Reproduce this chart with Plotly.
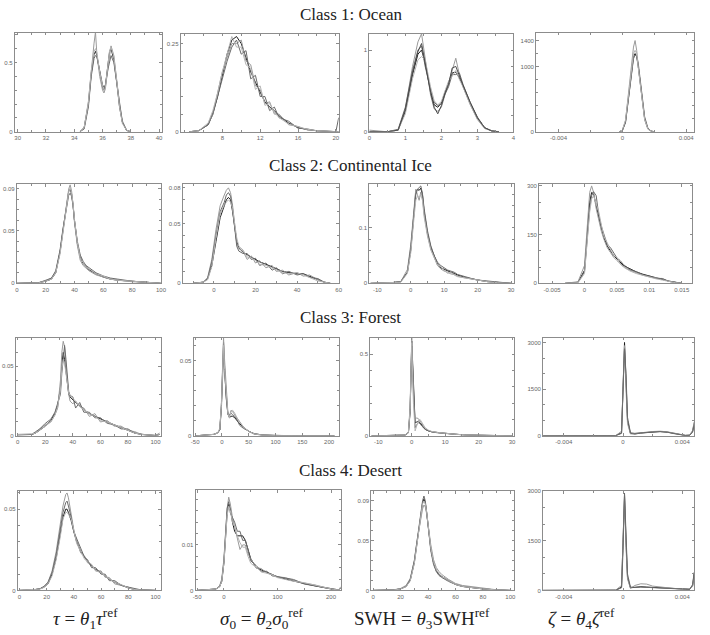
import plotly.graph_objects as go

W, H = 710, 635

# ---------------- data ----------------
# Class 1: Ocean
OCEAN_TAU_X = [34.4, 34.7, 35.0, 35.2, 35.4, 35.5, 35.6, 35.8, 36.0, 36.1, 36.2, 36.4, 36.5, 36.6, 36.8, 37.0, 37.2, 37.4, 37.7, 38.0]
OCEAN_TAU_Y = [
    [0, 0.03, 0.2, 0.42, 0.56, 0.58, 0.55, 0.42, 0.32, 0.30, 0.33, 0.5, 0.58, 0.6, 0.52, 0.36, 0.18, 0.07, 0.01, 0],
    [0, 0.03, 0.22, 0.46, 0.64, 0.72, 0.56, 0.4, 0.3, 0.28, 0.31, 0.48, 0.57, 0.62, 0.55, 0.38, 0.2, 0.08, 0.01, 0],
    [0, 0.02, 0.18, 0.4, 0.53, 0.55, 0.54, 0.44, 0.34, 0.32, 0.34, 0.46, 0.52, 0.55, 0.5, 0.36, 0.19, 0.07, 0.01, 0],
    [0, 0.03, 0.21, 0.44, 0.58, 0.6, 0.57, 0.43, 0.33, 0.3, 0.32, 0.49, 0.59, 0.61, 0.54, 0.37, 0.18, 0.06, 0.01, 0],
]
OCEAN_SIG_X = [4.5, 5.5, 6.5, 7, 7.5, 8, 8.5, 9, 9.5, 10, 10.5, 11, 11.5, 12, 12.5, 13, 13.5, 14, 15, 16, 17, 18, 20.0, 20.3]
OCEAN_SIG_Y = [
    [0, 0.003, 0.02, 0.05, 0.1, 0.16, 0.22, 0.26, 0.27, 0.25, 0.21, 0.17, 0.14, 0.11, 0.085, 0.07, 0.06, 0.045, 0.025, 0.012, 0.006, 0.003, 0, 0],
    [0, 0.003, 0.02, 0.05, 0.11, 0.17, 0.21, 0.25, 0.25, 0.26, 0.2, 0.19, 0.13, 0.12, 0.08, 0.085, 0.05, 0.05, 0.02, 0.015, 0.005, 0.004, 0, 0],
    [0, 0.003, 0.02, 0.055, 0.1, 0.15, 0.2, 0.24, 0.26, 0.22, 0.23, 0.15, 0.16, 0.1, 0.1, 0.06, 0.07, 0.04, 0.03, 0.01, 0.008, 0.002, 0.0, 0.04],
    [0, 0.003, 0.025, 0.06, 0.11, 0.17, 0.22, 0.27, 0.24, 0.24, 0.19, 0.18, 0.12, 0.13, 0.075, 0.08, 0.055, 0.04, 0.022, 0.014, 0.007, 0.003, 0, 0],
]
OCEAN_SWH_X = [0, 0.5, 0.8, 1.0, 1.2, 1.35, 1.45, 1.55, 1.7, 1.8, 1.9, 2.0, 2.1, 2.2, 2.3, 2.4, 2.5, 2.6, 2.8, 3.0, 3.2, 3.4, 3.6]
OCEAN_SWH_Y = [
    [0, 0, 0.02, 0.25, 0.7, 0.95, 1.0, 0.85, 0.5, 0.33, 0.3, 0.35, 0.48, 0.6, 0.72, 0.73, 0.66, 0.56, 0.35, 0.17, 0.05, 0.01, 0],
    [0.02, 0, 0.02, 0.28, 0.8, 1.1, 1.2, 0.9, 0.45, 0.28, 0.25, 0.3, 0.45, 0.6, 0.75, 0.9, 0.7, 0.55, 0.33, 0.15, 0.04, 0.01, 0],
    [0, 0, 0.03, 0.3, 0.75, 1.0, 1.05, 0.8, 0.52, 0.36, 0.32, 0.34, 0.46, 0.55, 0.7, 0.7, 0.72, 0.58, 0.36, 0.18, 0.05, 0.01, 0],
    [0, 0, 0.02, 0.22, 0.65, 0.88, 0.92, 0.88, 0.55, 0.38, 0.33, 0.37, 0.5, 0.62, 0.68, 0.75, 0.64, 0.55, 0.34, 0.16, 0.05, 0.01, 0],
    [0, 0, 0.02, 0.27, 0.72, 0.98, 1.08, 0.82, 0.48, 0.3, 0.22, 0.32, 0.47, 0.58, 0.78, 0.8, 0.68, 0.57, 0.36, 0.17, 0.05, 0.01, 0],
]
OCEAN_ZETA_X = [-0.0002, 0.0, 0.0002, 0.0004, 0.0006, 0.0007, 0.0008, 0.0009, 0.001, 0.0012, 0.0014, 0.0016, 0.0018, 0.002]
OCEAN_ZETA_Y = [
    [0, 20, 150, 550, 1000, 1150, 1200, 1150, 1000, 600, 200, 50, 10, 0],
    [0, 20, 170, 600, 1100, 1300, 1400, 1250, 1000, 550, 180, 40, 8, 0],
    [0, 15, 140, 520, 950, 1120, 1180, 1160, 1050, 650, 230, 60, 12, 0],
    [0, 25, 180, 620, 1050, 1200, 1250, 1200, 980, 560, 190, 45, 10, 0],
]

# Class 2: Continental Ice
ICE_TAU_X = [0, 10, 15, 20, 24, 27, 30, 32, 34, 35, 36, 37, 38, 39, 40, 42, 44, 46, 48, 50, 55, 60, 65, 70, 80, 90, 100]
ICE_TAU_Y = [
    [0, 0, 0.0005, 0.002, 0.004, 0.01, 0.03, 0.05, 0.07, 0.08, 0.088, 0.09, 0.085, 0.075, 0.06, 0.038, 0.025, 0.019, 0.016, 0.013, 0.009, 0.006, 0.004, 0.003, 0.002, 0.001, 0],
    [0, 0, 0.0005, 0.003, 0.005, 0.011, 0.03, 0.05, 0.072, 0.082, 0.09, 0.094, 0.088, 0.075, 0.058, 0.036, 0.022, 0.017, 0.014, 0.012, 0.008, 0.006, 0.004, 0.003, 0.0015, 0.001, 0],
    [0, 0, 0.0006, 0.0025, 0.005, 0.012, 0.032, 0.052, 0.07, 0.078, 0.084, 0.086, 0.083, 0.074, 0.06, 0.04, 0.027, 0.021, 0.017, 0.015, 0.01, 0.007, 0.005, 0.004, 0.002, 0.001, 0],
    [0, 0, 0.0004, 0.002, 0.004, 0.01, 0.028, 0.048, 0.068, 0.079, 0.087, 0.091, 0.086, 0.076, 0.061, 0.039, 0.024, 0.02, 0.015, 0.014, 0.009, 0.007, 0.004, 0.003, 0.002, 0.001, 0],
]
ICE_SIG_X = [-10, -5, -3, -1, 1, 3, 5, 6, 7, 8, 9, 10, 11, 12, 14, 16, 18, 20, 22, 25, 28, 30, 33, 36, 40, 43, 46, 50, 53, 56]
ICE_SIG_Y = [
    [0, 0.001, 0.004, 0.015, 0.035, 0.055, 0.065, 0.07, 0.072, 0.07, 0.06, 0.045, 0.035, 0.03, 0.026, 0.024, 0.022, 0.02, 0.018, 0.016, 0.014, 0.012, 0.01, 0.009, 0.008, 0.008, 0.006, 0.003, 0.001, 0],
    [0, 0.001, 0.005, 0.02, 0.045, 0.065, 0.074, 0.078, 0.08, 0.076, 0.065, 0.048, 0.033, 0.029, 0.027, 0.02, 0.023, 0.017, 0.019, 0.013, 0.015, 0.01, 0.011, 0.007, 0.009, 0.006, 0.007, 0.003, 0.001, 0],
    [0, 0.001, 0.004, 0.018, 0.04, 0.06, 0.068, 0.074, 0.076, 0.073, 0.062, 0.046, 0.031, 0.027, 0.025, 0.025, 0.02, 0.021, 0.015, 0.017, 0.011, 0.013, 0.008, 0.01, 0.007, 0.008, 0.005, 0.004, 0.001, 0],
    [0, 0.001, 0.003, 0.014, 0.038, 0.058, 0.066, 0.068, 0.07, 0.068, 0.063, 0.05, 0.038, 0.031, 0.028, 0.022, 0.021, 0.019, 0.016, 0.015, 0.013, 0.011, 0.009, 0.008, 0.009, 0.007, 0.005, 0.002, 0.001, 0],
]
ICE_SWH_X = [-12, -6, -3, -1, 0, 1, 1.5, 2, 2.5, 3, 3.5, 4, 5, 6, 7, 8, 9, 10, 11, 12, 13, 14, 16, 18, 20, 23, 26, 30]
ICE_SWH_Y = [
    [0, 0.001, 0.003, 0.02, 0.06, 0.13, 0.165, 0.17, 0.168, 0.172, 0.16, 0.13, 0.09, 0.065, 0.048, 0.035, 0.028, 0.025, 0.022, 0.02, 0.018, 0.015, 0.011, 0.008, 0.006, 0.003, 0.002, 0],
    [0, 0.001, 0.003, 0.025, 0.07, 0.14, 0.17, 0.16, 0.15, 0.165, 0.155, 0.125, 0.088, 0.062, 0.045, 0.032, 0.026, 0.022, 0.02, 0.017, 0.016, 0.013, 0.01, 0.008, 0.005, 0.003, 0.001, 0],
    [0, 0.001, 0.003, 0.02, 0.065, 0.13, 0.16, 0.17, 0.174, 0.176, 0.162, 0.135, 0.095, 0.068, 0.05, 0.038, 0.032, 0.028, 0.024, 0.022, 0.02, 0.016, 0.012, 0.009, 0.006, 0.004, 0.002, 0],
    [0, 0.001, 0.002, 0.018, 0.055, 0.12, 0.15, 0.158, 0.155, 0.16, 0.15, 0.12, 0.085, 0.06, 0.045, 0.033, 0.03, 0.023, 0.018, 0.02, 0.015, 0.012, 0.01, 0.007, 0.005, 0.003, 0.001, 0],
]
ICE_ZETA_X = [-0.003, -0.001, 0, 0.0004, 0.0008, 0.0011, 0.0014, 0.0018, 0.0022, 0.0026, 0.003, 0.0035, 0.004, 0.0045, 0.005, 0.0055, 0.006, 0.007, 0.008, 0.009, 0.01, 0.011, 0.012, 0.013, 0.014, 0.015]
ICE_ZETA_Y = [
    [0, 3, 40, 150, 250, 280, 275, 240, 200, 170, 140, 115, 100, 85, 75, 65, 55, 45, 35, 28, 22, 17, 12, 7, 3, 0],
    [0, 5, 55, 180, 280, 300, 280, 230, 190, 160, 135, 110, 95, 80, 70, 60, 52, 40, 32, 25, 20, 16, 14, 6, 2, 0],
    [0, 3, 35, 130, 230, 270, 282, 270, 210, 175, 150, 120, 110, 95, 78, 70, 58, 42, 36, 26, 22, 15, 15, 6, 2, 0],
    [0, 2, 30, 120, 220, 260, 270, 245, 220, 180, 145, 125, 105, 85, 80, 60, 50, 38, 30, 24, 18, 14, 10, 5, 2, 0],
]

# Class 3: Forest
FOREST_TAU_X = [0, 5, 10, 13, 16, 20, 24, 27, 29, 31, 32, 33, 34, 35, 36, 37, 38, 40, 42, 45, 48, 52, 56, 60, 65, 70, 75, 80, 85, 90, 95, 100, 103]
FOREST_TAU_Y = [
    [0.001, 0.001, 0.001, 0.002, 0.004, 0.007, 0.011, 0.016, 0.022, 0.035, 0.05, 0.06, 0.055, 0.045, 0.035, 0.03, 0.028, 0.026, 0.024, 0.022, 0.019, 0.016, 0.014, 0.012, 0.01, 0.008, 0.006, 0.004, 0.002, 0.001, 0.0005, 0.0003, 0.001],
    [0.001, 0.001, 0.001, 0.002, 0.005, 0.008, 0.01, 0.015, 0.02, 0.04, 0.06, 0.068, 0.064, 0.05, 0.038, 0.03, 0.025, 0.023, 0.025, 0.021, 0.02, 0.014, 0.016, 0.01, 0.011, 0.007, 0.007, 0.004, 0.003, 0.001, 0.0005, 0.0003, 0.002],
    [0.0005, 0.001, 0.001, 0.003, 0.005, 0.009, 0.012, 0.017, 0.023, 0.03, 0.045, 0.058, 0.065, 0.055, 0.04, 0.032, 0.029, 0.028, 0.02, 0.024, 0.017, 0.017, 0.013, 0.013, 0.009, 0.008, 0.005, 0.005, 0.002, 0.001, 0.0005, 0.0003, 0.001],
    [0.001, 0.001, 0.0015, 0.002, 0.004, 0.007, 0.01, 0.015, 0.021, 0.033, 0.048, 0.055, 0.052, 0.046, 0.037, 0.031, 0.029, 0.027, 0.025, 0.021, 0.019, 0.016, 0.014, 0.011, 0.01, 0.008, 0.006, 0.004, 0.002, 0.001, 0.0005, 0.0003, 0.001],
]
FOREST_SIG_X = [-50, -30, -15, -8, -4, -1, 1, 3, 5, 8, 11, 14, 17, 20, 24, 28, 33, 40, 50, 60, 75, 100, 130, 170, 210]
FOREST_SIG_Y = [
    [0, 0.0005, 0.001, 0.002, 0.004, 0.02, 0.045, 0.062, 0.045, 0.025, 0.015, 0.012, 0.013, 0.013, 0.012, 0.01, 0.008, 0.006, 0.003, 0.0015, 0.0006, 0.0002, 0.0001, 0, 0],
    [0, 0.0005, 0.001, 0.002, 0.004, 0.022, 0.05, 0.065, 0.05, 0.028, 0.016, 0.013, 0.017, 0.016, 0.014, 0.012, 0.009, 0.006, 0.003, 0.0015, 0.0006, 0.0002, 0.0001, 0, 0],
    [0, 0.0005, 0.001, 0.002, 0.004, 0.018, 0.04, 0.055, 0.042, 0.024, 0.014, 0.014, 0.015, 0.014, 0.013, 0.011, 0.007, 0.005, 0.003, 0.0012, 0.0005, 0.0002, 0.0001, 0, 0],
    [0, 0.0005, 0.001, 0.002, 0.005, 0.02, 0.046, 0.06, 0.044, 0.026, 0.015, 0.012, 0.016, 0.017, 0.015, 0.012, 0.009, 0.006, 0.003, 0.0013, 0.0005, 0.0002, 0.0001, 0, 0],
]
FOREST_SWH_X = [-12, -5, -2, -1, -0.5, 0, 0.5, 1, 1.5, 2, 2.5, 3, 4, 5, 6, 8, 10, 13, 16, 20, 25, 30]
FOREST_SWH_Y = [
    [0, 0.001, 0.005, 0.02, 0.15, 0.58, 0.3, 0.08, 0.085, 0.09, 0.08, 0.065, 0.04, 0.03, 0.025, 0.02, 0.015, 0.01, 0.006, 0.003, 0.001, 0],
    [0, 0.001, 0.005, 0.025, 0.18, 0.6, 0.25, 0.1, 0.11, 0.105, 0.09, 0.07, 0.045, 0.032, 0.026, 0.02, 0.015, 0.01, 0.006, 0.003, 0.001, 0],
    [0, 0.001, 0.004, 0.018, 0.14, 0.55, 0.28, 0.05, 0.07, 0.08, 0.075, 0.06, 0.04, 0.03, 0.024, 0.018, 0.014, 0.009, 0.005, 0.003, 0.001, 0],
    [0, 0.001, 0.005, 0.02, 0.16, 0.57, 0.2, 0.03, 0.06, 0.095, 0.1, 0.08, 0.05, 0.035, 0.027, 0.02, 0.015, 0.01, 0.006, 0.003, 0.001, 0],
]
FOREST_ZETA_X = [-0.0054, -0.002, -0.0005, -0.0001, 0.0, 0.0001, 0.0002, 0.0003, 0.0005, 0.0008, 0.0012, 0.0016, 0.002, 0.0025, 0.003, 0.0034, 0.0038, 0.0042, 0.0045, 0.0047, 0.0048]
FOREST_ZETA_Y = [
    [0, 0, 5, 100, 1500, 3000, 1800, 500, 80, 60, 90, 110, 130, 140, 120, 80, 40, 15, 20, 150, 400],
    [0, 0, 8, 150, 1800, 2900, 1500, 400, 60, 70, 100, 120, 140, 150, 130, 90, 45, 18, 25, 180, 450],
    [0, 0, 5, 80, 1200, 2800, 2000, 600, 100, 80, 95, 115, 125, 135, 115, 75, 38, 12, 18, 120, 350],
]

# Class 4: Desert
DESERT_TAU_X = [0, 10, 15, 18, 21, 24, 27, 30, 32, 34, 35, 36, 38, 40, 42, 45, 48, 50, 53, 56, 60, 63, 66, 70, 75, 80, 85, 90, 100]
DESERT_TAU_Y = [
    [0, 0.0003, 0.001, 0.002, 0.004, 0.01, 0.02, 0.035, 0.045, 0.05, 0.05, 0.048, 0.043, 0.036, 0.03, 0.024, 0.02, 0.018, 0.015, 0.013, 0.011, 0.009, 0.007, 0.005, 0.003, 0.0015, 0.0005, 0.0002, 0],
    [0, 0.0003, 0.001, 0.002, 0.005, 0.012, 0.024, 0.04, 0.052, 0.059, 0.06, 0.057, 0.048, 0.037, 0.031, 0.023, 0.021, 0.017, 0.016, 0.012, 0.012, 0.008, 0.008, 0.004, 0.003, 0.002, 0.0005, 0.0002, 0],
    [0, 0.0003, 0.001, 0.0025, 0.005, 0.011, 0.022, 0.038, 0.048, 0.054, 0.055, 0.052, 0.045, 0.036, 0.032, 0.025, 0.02, 0.019, 0.014, 0.014, 0.01, 0.01, 0.006, 0.006, 0.003, 0.002, 0.001, 0.0002, 0],
    [0, 0.0003, 0.0008, 0.0018, 0.004, 0.009, 0.019, 0.033, 0.044, 0.048, 0.048, 0.047, 0.044, 0.037, 0.029, 0.024, 0.019, 0.018, 0.016, 0.012, 0.011, 0.009, 0.007, 0.005, 0.0035, 0.0015, 0.0005, 0.0002, 0],
]
DESERT_SIG_X = [-50, -30, -15, -8, -4, 0, 3, 6, 9, 12, 16, 20, 25, 30, 35, 40, 45, 50, 55, 60, 70, 80, 90, 100, 115, 130, 150, 170, 190, 205, 215, 218]
DESERT_SIG_Y = [
    [0, 0.0001, 0.0003, 0.0008, 0.002, 0.006, 0.012, 0.017, 0.019, 0.018, 0.015, 0.013, 0.012, 0.012, 0.012, 0.011, 0.009, 0.007, 0.006, 0.005, 0.0045, 0.004, 0.0035, 0.003, 0.0025, 0.002, 0.0015, 0.001, 0.0005, 0.0002, 0.0001, 0.0005],
    [0, 0.0001, 0.0003, 0.001, 0.0025, 0.007, 0.013, 0.018, 0.0205, 0.019, 0.016, 0.014, 0.011, 0.009, 0.01, 0.01, 0.008, 0.007, 0.006, 0.005, 0.0048, 0.0038, 0.0035, 0.003, 0.0028, 0.0022, 0.0016, 0.0012, 0.0006, 0.0002, 0.0001, 0.0008],
    [0, 0.0001, 0.0003, 0.0009, 0.0022, 0.0065, 0.013, 0.018, 0.0195, 0.017, 0.016, 0.015, 0.013, 0.013, 0.011, 0.011, 0.009, 0.0065, 0.006, 0.0055, 0.0042, 0.0042, 0.0032, 0.003, 0.0026, 0.0024, 0.0014, 0.001, 0.0005, 0.0002, 0.0001, 0.0006],
    [0, 0.0001, 0.0003, 0.0008, 0.002, 0.006, 0.0115, 0.0165, 0.0185, 0.0175, 0.015, 0.014, 0.012, 0.0105, 0.0095, 0.0095, 0.0075, 0.006, 0.0055, 0.0052, 0.004, 0.0038, 0.0034, 0.0028, 0.0024, 0.002, 0.0017, 0.0011, 0.0006, 0.0002, 0.0001, 0.0007],
]
DESERT_SWH_X = [0, 10, 15, 20, 24, 27, 30, 32, 34, 35, 36, 37, 38, 39, 40, 42, 44, 46, 48, 50, 55, 60, 65, 70, 80, 90, 100]
DESERT_SWH_Y = [
    [0, 0, 0.0005, 0.0015, 0.004, 0.01, 0.028, 0.048, 0.07, 0.08, 0.088, 0.092, 0.088, 0.078, 0.065, 0.042, 0.028, 0.02, 0.016, 0.014, 0.01, 0.006, 0.004, 0.003, 0.0015, 0.0005, 0],
    [0, 0, 0.0006, 0.002, 0.005, 0.012, 0.03, 0.05, 0.068, 0.076, 0.082, 0.086, 0.084, 0.077, 0.066, 0.046, 0.031, 0.023, 0.019, 0.016, 0.011, 0.007, 0.005, 0.004, 0.002, 0.0006, 0],
    [0, 0, 0.0005, 0.0015, 0.004, 0.011, 0.03, 0.05, 0.072, 0.083, 0.09, 0.095, 0.09, 0.079, 0.064, 0.04, 0.026, 0.019, 0.015, 0.013, 0.009, 0.006, 0.004, 0.003, 0.0015, 0.0005, 0],
    [0, 0, 0.0004, 0.0014, 0.0038, 0.0095, 0.027, 0.047, 0.069, 0.079, 0.087, 0.09, 0.087, 0.079, 0.066, 0.043, 0.029, 0.021, 0.017, 0.014, 0.01, 0.006, 0.004, 0.003, 0.0015, 0.0005, 0],
]
DESERT_ZETA_X = [-0.0054, -0.002, -0.0005, -0.0001, 0.0, 0.0001, 0.0002, 0.0003, 0.0005, 0.0008, 0.0012, 0.0016, 0.002, 0.0025, 0.003, 0.0034, 0.0038, 0.0042, 0.0045, 0.0047, 0.0048]
DESERT_ZETA_Y = [
    [0, 0, 5, 100, 1500, 2900, 1500, 400, 80, 100, 110, 100, 90, 80, 70, 60, 50, 40, 35, 150, 500],
    [0, 0, 8, 150, 1800, 2800, 1300, 350, 60, 150, 200, 190, 130, 100, 80, 60, 50, 40, 35, 120, 450],
    [0, 0, 5, 80, 1200, 2950, 1700, 500, 100, 90, 100, 95, 85, 75, 65, 55, 45, 38, 30, 180, 550],
]

# Titles and axis labels
ROW_TITLES = ["Class 1: Ocean", "Class 2: Continental Ice", "Class 3: Forest", "Class 4: Desert"]
COL_LABELS = [
    "<i>τ</i> = <i>θ</i><sub>1</sub><i>τ</i><sup>ref</sup>",
    "<i>σ</i><sub>0</sub> = <i>θ</i><sub>2</sub><i>σ</i><sub>0</sub><sup>ref</sup>",
    "SWH = <i>θ</i><sub>3</sub>SWH<sup>ref</sup>",
    "<i>ζ</i> = <i>θ</i><sub>4</sub><i>ζ</i><sup>ref</sup>",
]

# Tick labels (labelled major ticks) and unlabelled minor tick positions per panel
TAU_OCEAN_XT = [30, 32, 34, 36, 38, 40]
TAU_OCEAN_YT, TAU_OCEAN_YM = [0, 0.5], [0.1, 0.2, 0.3, 0.4, 0.6, 0.7]
SIG_OCEAN_XT, SIG_OCEAN_XM = [8, 12, 16, 20], [4, 6, 10, 14, 18]
SIG_OCEAN_YT, SIG_OCEAN_YM = [0, 0.25], [0.05, 0.1, 0.15, 0.2]
SWH_OCEAN_XT, SWH_OCEAN_XM = [0, 1, 2, 3, 4], [0.5, 1.5, 2.5, 3.5]
SWH_OCEAN_YT, SWH_OCEAN_YM = [0, 1], [0.2, 0.4, 0.6, 0.8]
ZETA_OCEAN_XT, ZETA_OCEAN_XM = [-0.004, 0, 0.004], [-0.002, 0.002]
ZETA_OCEAN_YT, ZETA_OCEAN_YM = [0, 1000, 1400], [200, 400, 600, 800, 1200]

TAU_100_XT = [0, 20, 40, 60, 80, 100]
TAU_ICE_YT, TAU_ICE_YM = [0, 0.05, 0.09], [0.01, 0.02, 0.03, 0.04, 0.06, 0.07, 0.08]
SIG_ICE_XT, SIG_ICE_XM = [0, 20, 40, 60], [-10, 10, 30, 50]
SIG_ICE_YT, SIG_ICE_YM = [0, 0.05, 0.08], [0.01, 0.02, 0.03, 0.04, 0.06, 0.07]
SWH_ICE_XT, SWH_ICE_XM = [-10, 0, 10, 20, 30], [-5, 5, 15, 25]
SWH_ICE_YT, SWH_ICE_YM = [0, 0.1, 0.18], [0.02, 0.04, 0.06, 0.08, 0.12, 0.14, 0.16]
ZETA_ICE_XT = [-0.005, 0, 0.005, 0.01, 0.015]
ZETA_ICE_XL = ["-0.005", "0", "0.005", "0.01", "0.015"]
ZETA_ICE_YT, ZETA_ICE_YM = [0, 150, 300], [50, 100, 200, 250]

TAU_FOREST_YT, TAU_FOREST_YM = [0, 0.05], [0.01, 0.02, 0.03, 0.04, 0.06, 0.07]
SIG_WIDE_XT = [-50, 0, 50, 100, 150, 200]
SIG_FOREST_YT, SIG_FOREST_YM = [0, 0.05], [0.01, 0.02, 0.03, 0.04, 0.06]
SWH_FOREST_YT, SWH_FOREST_YM = [0, 0.5], [0.1, 0.2, 0.3, 0.4, 0.6]
ZETA_SYM_XT, ZETA_SYM_XM = [-0.004, 0, 0.004], [-0.002, 0.002]
ZETA_3K_YT, ZETA_3K_YM = [0, 1500, 3000], [500, 1000, 2000, 2500]

TAU_DESERT_YT, TAU_DESERT_YM = [0, 0.05], [0.01, 0.02, 0.03, 0.04, 0.06]
SIG_DESERT_XT, SIG_DESERT_XM = [-50, 0, 100, 200], [50, 150]
SIG_DESERT_YT, SIG_DESERT_YM = [0, 0.01], [0.0025, 0.005, 0.0075, 0.0125, 0.015, 0.0175, 0.02]
SWH_DESERT_YT, SWH_DESERT_YM = [0, 0.05, 0.09], [0.01, 0.02, 0.03, 0.04, 0.06, 0.07, 0.08]

# ---------------- layout (pixel boxes of each panel: left, right, top, bottom) ----------------
BOXES = [
    [(12, 161, 30, 130), (180, 340, 31, 130), (371, 517, 31, 130), (540, 700, 30, 130)],
    [(14, 160, 183, 283), (182, 340, 183, 283), (371, 518, 183, 283), (543, 698, 183, 283)],
    [(13, 160, 338, 437), (193, 340, 338, 437), (372, 518, 338, 437), (547, 700, 338, 437)],
    [(15, 160, 493, 593), (195, 342, 492, 593), (373, 518, 493, 593), (547, 700, 493, 593)],
]


def lab(v):
    return [("%g" % t) for t in v]


PANELS = [
    # row 0
    [(OCEAN_TAU_X, OCEAN_TAU_Y, [29.8, 40.2], [0, 0.715], TAU_OCEAN_XT, lab(TAU_OCEAN_XT), [31, 33, 35, 37, 39], TAU_OCEAN_YT, TAU_OCEAN_YM),
     (OCEAN_SIG_X, OCEAN_SIG_Y, [3.6, 20.3], [0, 0.278], SIG_OCEAN_XT, lab(SIG_OCEAN_XT), SIG_OCEAN_XM, SIG_OCEAN_YT, SIG_OCEAN_YM),
     (OCEAN_SWH_X, OCEAN_SWH_Y, [0, 4], [0, 1.2], SWH_OCEAN_XT, lab(SWH_OCEAN_XT), SWH_OCEAN_XM, SWH_OCEAN_YT, SWH_OCEAN_YM),
     (OCEAN_ZETA_X, OCEAN_ZETA_Y, [-0.0054, 0.0045], [0, 1520], ZETA_OCEAN_XT, ["-0.004", "0", "0.004"], ZETA_OCEAN_XM, ZETA_OCEAN_YT, ZETA_OCEAN_YM)],
    # row 1
    [(ICE_TAU_X, ICE_TAU_Y, [0, 100], [0, 0.0945], TAU_100_XT, lab(TAU_100_XT), [10, 30, 50, 70, 90], TAU_ICE_YT, TAU_ICE_YM),
     (ICE_SIG_X, ICE_SIG_Y, [-15, 60], [0, 0.083], SIG_ICE_XT, lab(SIG_ICE_XT), SIG_ICE_XM, SIG_ICE_YT, SIG_ICE_YM),
     (ICE_SWH_X, ICE_SWH_Y, [-12.4, 31], [0, 0.179], SWH_ICE_XT, lab(SWH_ICE_XT), SWH_ICE_XM, SWH_ICE_YT, SWH_ICE_YM),
     (ICE_ZETA_X, ICE_ZETA_Y, [-0.007, 0.0166], [0, 305], ZETA_ICE_XT, ZETA_ICE_XL, [], ZETA_ICE_YT, ZETA_ICE_YM)],
    # row 2
    [(FOREST_TAU_X, FOREST_TAU_Y, [-1.4, 104], [0, 0.0705], TAU_100_XT, lab(TAU_100_XT), [10, 30, 50, 70, 90], TAU_FOREST_YT, TAU_FOREST_YM),
     (FOREST_SIG_X, FOREST_SIG_Y, [-53, 218], [0, 0.065], SIG_WIDE_XT, lab(SIG_WIDE_XT), [], SIG_FOREST_YT, SIG_FOREST_YM),
     (FOREST_SWH_X, FOREST_SWH_Y, [-12.4, 30.7], [0, 0.6], SWH_ICE_XT, lab(SWH_ICE_XT), SWH_ICE_XM, SWH_FOREST_YT, SWH_FOREST_YM),
     (FOREST_ZETA_X, FOREST_ZETA_Y, [-0.0054, 0.0048], [0, 3150], ZETA_SYM_XT, ["-0.004", "0", "0.004"], ZETA_SYM_XM, ZETA_3K_YT, ZETA_3K_YM)],
    # row 3
    [(DESERT_TAU_X, DESERT_TAU_Y, [-1.2, 104], [0, 0.061], TAU_100_XT, lab(TAU_100_XT), [10, 30, 50, 70, 90], TAU_DESERT_YT, TAU_DESERT_YM),
     (DESERT_SIG_X, DESERT_SIG_Y, [-53, 218], [0, 0.022], SIG_DESERT_XT, lab(SIG_DESERT_XT), SIG_DESERT_XM, SIG_DESERT_YT, SIG_DESERT_YM),
     (DESERT_SWH_X, DESERT_SWH_Y, [-1.4, 103], [0, 0.0997], TAU_100_XT, lab(TAU_100_XT), [10, 30, 50, 70, 90], SWH_DESERT_YT, SWH_DESERT_YM),
     (DESERT_ZETA_X, DESERT_ZETA_Y, [-0.0054, 0.0048], [0, 3000], ZETA_SYM_XT, ["-0.004", "0", "0.004"], ZETA_SYM_XM, ZETA_3K_YT, ZETA_3K_YM)],
]

LINE_COLORS = ["#1c1c1c", "#9a9a9a", "#6a6a6a", "#b4b4b4", "#4a4a4a"]
AXIS_GRAY = "#8c8c8c"

fig = go.Figure()
layout = dict(
    width=W, height=H, margin=dict(l=0, r=0, t=0, b=0),
    paper_bgcolor="white", plot_bgcolor="white", showlegend=False,
)
axis_common = dict(
    showgrid=False, zeroline=False, showline=True, linecolor=AXIS_GRAY, linewidth=1,
    mirror="allticks", ticks="inside", ticklen=2.5, tickcolor=AXIS_GRAY, tickwidth=1,
    tickfont=dict(family="Liberation Sans, Arial, sans-serif", size=6, color="#666666"),
    fixedrange=True,
)

idx = 0
for r in range(4):
    for c in range(4):
        idx += 1
        X, YS, xr, yr, xt, xl, xm, yt, ym = PANELS[r][c]
        L, R, T, B = BOXES[r][c]
        xa = "xaxis" if idx == 1 else f"xaxis{idx}"
        ya = "yaxis" if idx == 1 else f"yaxis{idx}"
        xref = "x" if idx == 1 else f"x{idx}"
        yref = "y" if idx == 1 else f"y{idx}"
        xaxis = dict(axis_common, domain=[L / W, R / W], range=xr, anchor=yref,
                     tickmode="array", tickvals=xt, ticktext=xl)
        if xm:
            xaxis["minor"] = dict(tickmode="array", tickvals=xm, ticks="inside", ticklen=2,
                                  tickcolor=AXIS_GRAY, showgrid=False)
        yaxis = dict(axis_common, domain=[1 - B / H, 1 - T / H], range=yr, anchor=xref,
                     tickmode="array", tickvals=yt, ticktext=lab(yt))
        if ym:
            yaxis["minor"] = dict(tickmode="array", tickvals=ym, ticks="inside", ticklen=2,
                                  tickcolor=AXIS_GRAY, showgrid=False)
        layout[xa] = xaxis
        layout[ya] = yaxis
        for k, Y in enumerate(YS):
            fig.add_trace(go.Scatter(
                x=X, y=Y, mode="lines", xaxis=xref, yaxis=yref,
                line=dict(color=LINE_COLORS[k % len(LINE_COLORS)], width=1), hoverinfo="skip",
            ))

fig.update_layout(**layout)

TITLE_Y = [12, 164, 317, 472]
for title, py in zip(ROW_TITLES, TITLE_Y):
    fig.add_annotation(text=title, xref="paper", yref="paper", x=352 / W, y=1 - py / H,
                       showarrow=False, xanchor="center", yanchor="middle",
                       font=dict(family="Liberation Serif, Times New Roman, serif", size=17, color="#222222"))

LABEL_X = [84, 262, 424, 586]
for text, px in zip(COL_LABELS, LABEL_X):
    fig.add_annotation(text=text, xref="paper", yref="paper", x=px / W, y=1 - 621 / H,
                       showarrow=False, xanchor="center", yanchor="middle",
                       font=dict(family="Liberation Serif, Times New Roman, serif", size=19, color="#222222"))

fig.write_html("out.html")
